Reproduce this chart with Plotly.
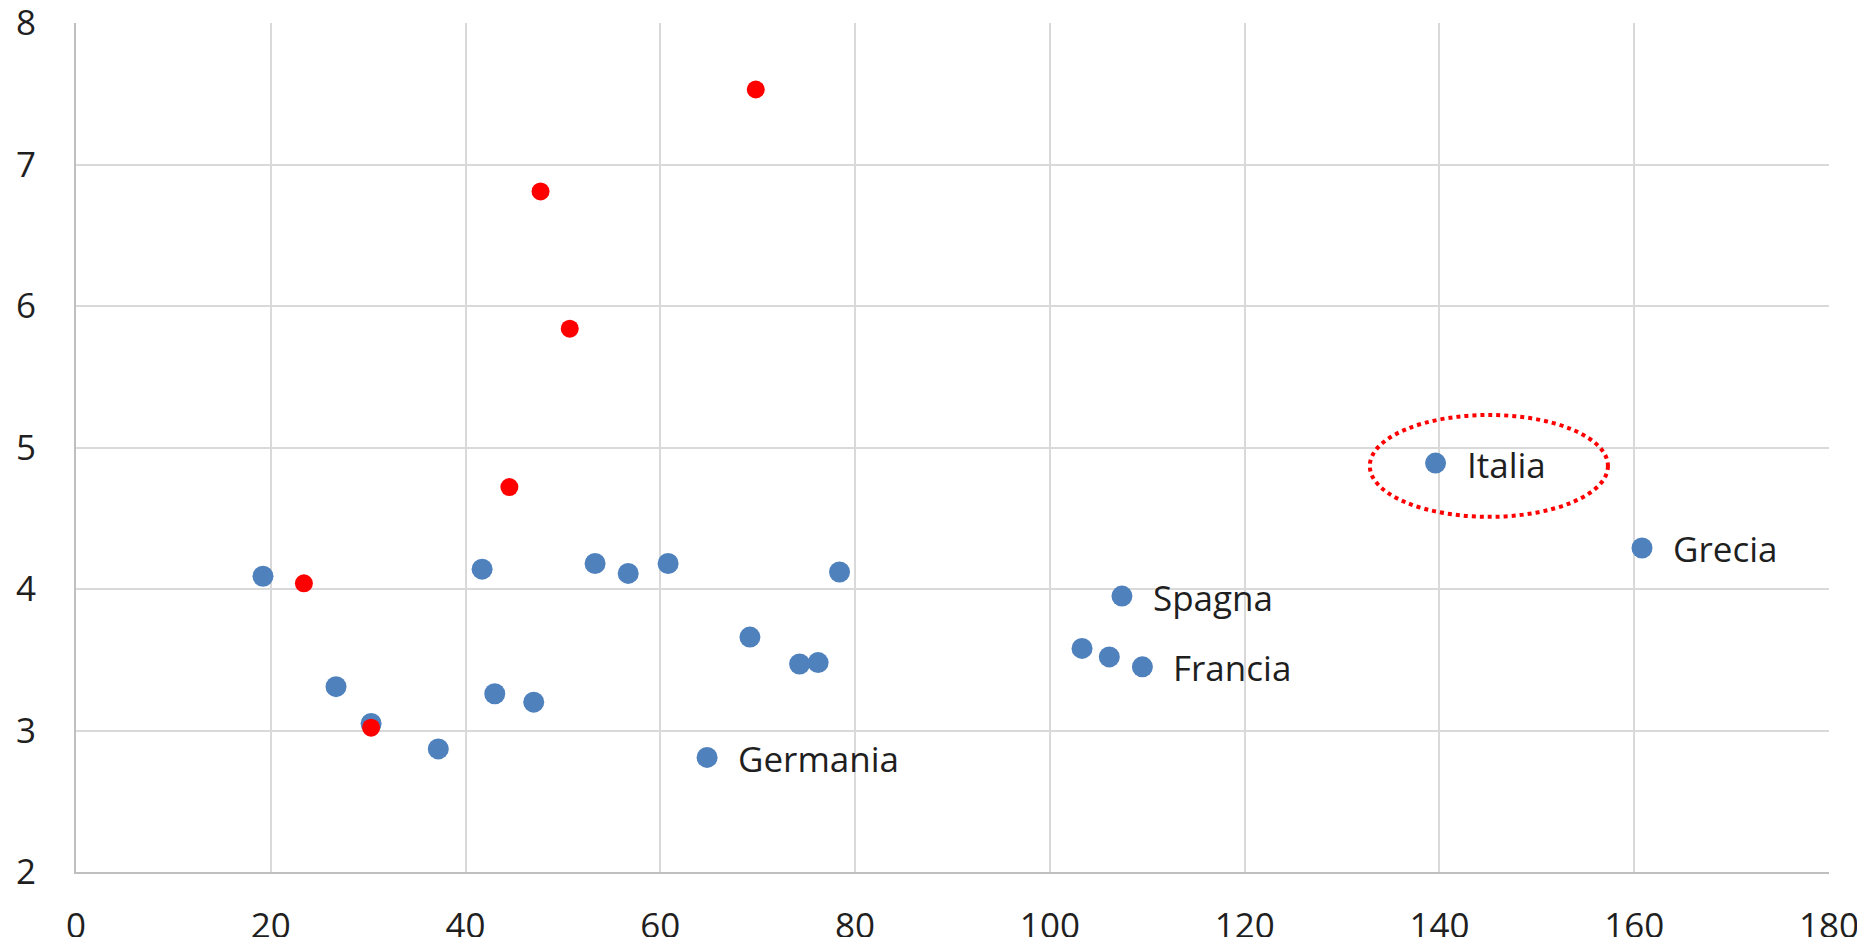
import plotly.graph_objects as go

# Blue series (all countries)
blue_x = [19.2, 26.7, 30.3, 37.2, 41.7, 43.0, 47.0, 53.3, 56.7, 60.8, 64.8,
          69.2, 74.3, 76.2, 78.4, 103.3, 106.1, 107.4, 109.5, 139.6, 160.8]
blue_y = [4.09, 3.31, 3.05, 2.87, 4.14, 3.26, 3.20, 4.18, 4.11, 4.18, 2.81,
          3.66, 3.47, 3.48, 4.12, 3.58, 3.52, 3.95, 3.45, 4.89, 4.29]
blue_labels = ["", "", "", "", "", "", "", "", "", "", "Germania",
               "", "", "", "", "", "", "Spagna", "Francia", "Italia", "Grecia"]

# Red series
red_x = [23.4, 30.3, 44.5, 47.7, 50.7, 69.8]
red_y = [4.04, 3.02, 4.72, 6.81, 5.84, 7.53]

x_ticks = [0, 20, 40, 60, 80, 100, 120, 140, 160, 180]
y_ticks = [2, 3, 4, 5, 6, 7, 8]

FONT = "Open Sans"
TXT = "#1f1f1f"
FS = 35

fig = go.Figure()
fig.add_trace(go.Scatter(x=blue_x, y=blue_y, mode="markers",
                         marker=dict(size=21, color="#4F81BD"),
                         showlegend=False, hoverinfo="x+y"))
fig.add_trace(go.Scatter(x=red_x, y=red_y, mode="markers",
                         marker=dict(size=18, color="#FF0000"),
                         showlegend=False, hoverinfo="x+y"))

annotations = []
for x, y, t in zip(blue_x, blue_y, blue_labels):
    if t:
        annotations.append(dict(x=x, y=y, xref="x", yref="y", text=t,
                                showarrow=False, xanchor="left", yanchor="middle",
                                xshift=29, yshift=-1,
                                font=dict(family=FONT, size=FS, color=TXT)))

# dotted ellipse highlighting Italia
shapes = [dict(type="circle", xref="x", yref="y",
               x0=132.85, x1=157.3, y0=4.51, y1=5.23,
               line=dict(color="#FF0000", width=4, dash="dot"))]

# page body has an 8px margin, so the figure is sized to fit inside it
fig.update_layout(
    width=1849, height=929,
    margin=dict(l=68, r=28, t=15, b=65),
    paper_bgcolor="white", plot_bgcolor="white",
    font=dict(family=FONT, size=FS, color=TXT),
    annotations=annotations, shapes=shapes,
    showlegend=False,
)
fig.update_xaxes(range=[0, 180], tickvals=x_ticks, ticktext=[str(v) for v in x_ticks],
                 showgrid=True, gridcolor="#D9D9D9", gridwidth=2,
                 showline=True, linecolor="#BFBFBF", linewidth=2,
                 zeroline=False, ticks="", ticklabelstandoff=22, automargin=False,
                 ticklabeloverflow="allow",
                 tickfont=dict(family=FONT, size=FS, color=TXT))
fig.update_yaxes(range=[2, 8], tickvals=y_ticks, ticktext=[str(v) for v in y_ticks],
                 showgrid=True, gridcolor="#D9D9D9", gridwidth=2,
                 showline=True, linecolor="#BFBFBF", linewidth=2,
                 zeroline=False, ticks="", ticklabelstandoff=31, automargin=False,
                 ticklabeloverflow="allow",
                 tickfont=dict(family=FONT, size=FS, color=TXT))

fig.write_html("out.html")
